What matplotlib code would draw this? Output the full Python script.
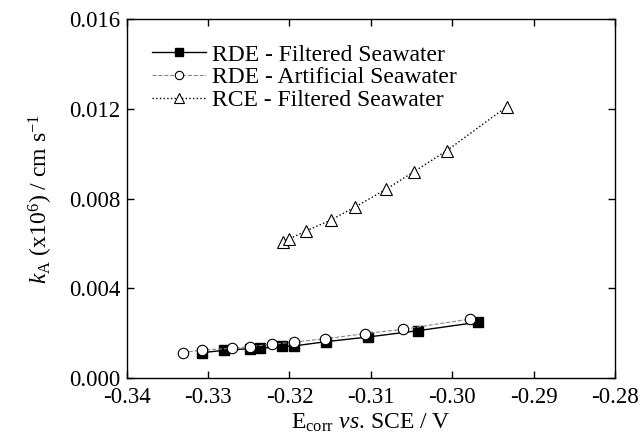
import matplotlib
matplotlib.use('Agg')
import matplotlib.pyplot as plt

# data
e_rde_filt = [-0.3307, -0.3281, -0.3248, -0.3236, -0.3209, -0.3194, -0.3155, -0.3103, -0.3042, -0.2968]
k_rde_filt = [0.00112, 0.00122, 0.00130, 0.00131, 0.00140, 0.00142, 0.00161, 0.00182, 0.00210, 0.00248]

e_rde_art = [-0.3331, -0.3307, -0.3271, -0.3249, -0.3222, -0.3195, -0.3156, -0.3107, -0.3061, -0.2978]
k_rde_art = [0.00112, 0.00124, 0.00131, 0.00139, 0.00149, 0.00159, 0.00174, 0.00197, 0.00216, 0.00262]

e_rce_filt = [-0.3208, -0.3200, -0.3180, -0.3149, -0.3119, -0.3081, -0.3047, -0.3007, -0.2933]
k_rce_filt = [0.00605, 0.00620, 0.00655, 0.00704, 0.00763, 0.00842, 0.00920, 0.01013, 0.01210]

labels = ['RDE - Filtered Seawater', 'RDE - Artificial Seawater', 'RCE - Filtered Seawater']
xticks = [-0.34, -0.33, -0.32, -0.31, -0.30, -0.29, -0.28]
yticks = [0.0, 0.004, 0.008, 0.012, 0.016]

plt.rcParams['font.family'] = 'Liberation Serif'
plt.rcParams['mathtext.fontset'] = 'custom'
plt.rcParams['mathtext.rm'] = 'Liberation Serif'
plt.rcParams['mathtext.it'] = 'Liberation Serif:italic'

fig = plt.figure(figsize=(6.42, 4.47), dpi=100)
ax = fig.add_axes([0.1974, 0.155, 0.7606, 0.8018])

ax.plot(e_rde_filt, k_rde_filt, ls='-', color='black', lw=1.0, marker='s', ms=6.5,
        mfc='black', mec='black', label=labels[0])
ax.plot(e_rde_art, k_rde_art, ls='--', color='#888888', lw=0.8, marker='o', ms=7.5,
        mfc='white', mec='black', mew=0.8, label=labels[1])
ax.plot(e_rce_filt, k_rce_filt, ls=':', color='black', lw=1.0, marker='^', ms=9,
        mfc='white', mec='black', mew=0.8, label=labels[2])

ax.set_xlim(-0.34, -0.28)
ax.set_ylim(0.0, 0.016)
ax.set_xticks(xticks)
ax.set_xticklabels(['%.2f' % t for t in xticks])
ax.set_yticks(yticks)
ax.set_yticklabels(['%.3f' % t for t in yticks])
ax.tick_params(direction='in', top=True, right=True, length=5, width=1, labelsize=16.5)
ax.tick_params(axis='x', pad=7)
ax.tick_params(axis='y', pad=4.5)
for s in ax.spines.values():
    s.set_linewidth(1.0)

ax.set_xlabel(r'E$_{\mathrm{corr}}$ $\mathit{vs}$. SCE / V', fontsize=17, labelpad=2)
ax.set_ylabel(r'$\mathit{k}_{\mathrm{A}}$ (x10$^{6}$) / cm s$^{\mathrm{-1}}$', fontsize=17, labelpad=10)

ax.legend(loc='upper left', frameon=False, fontsize=17, handlelength=2.3,
          handletextpad=0.25, labelspacing=0.05, borderaxespad=0.55, markerscale=0.8,
          borderpad=0.5)

fig.savefig('out.png', dpi=100)
